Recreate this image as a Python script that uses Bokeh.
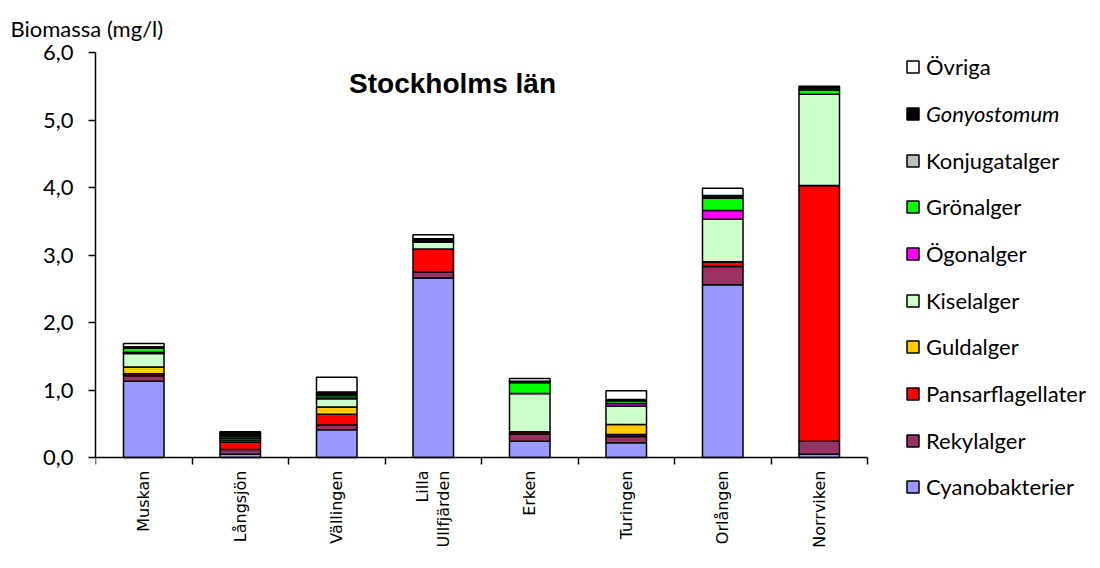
import math
from bokeh.plotting import figure
from bokeh.models import (Range1d, LinearAxis, FixedTicker,
                          CustomJSTickFormatter, Label, Legend, LegendItem, ColumnDataSource)
from bokeh.core.properties import value
from bokeh.embed import file_html
from bokeh.resources import INLINE

lakes = ["Muskan", "Långsjön", "Vällingen", "Lilla\nUllfjärden", "Erken", "Turingen", "Orlången", "Norrviken"]
groups = ["Cyanobakterier", "Rekylalger", "Pansarflagellater", "Guldalger", "Kiselalger",
          "Ögonalger", "Grönalger", "Konjugatalger", "Gonyostomum", "Övriga"]
colors = ["#9999FF", "#993366", "#FF0000", "#FFCC00", "#CCFFCC",
          "#FF00FF", "#00FF00", "#C0C0C0", "#000000", "#FFFFFF"]

cyano  = [1.13, 0.05, 0.41, 2.66, 0.24, 0.22, 2.56, 0.05]
rekyl  = [0.08, 0.07, 0.07, 0.09, 0.11, 0.09, 0.27, 0.19]
pansar = [0.03, 0.11, 0.16, 0.34, 0.03, 0.03, 0.07, 3.79]
guld   = [0.10, 0.03, 0.11, 0.00, 0.00, 0.15, 0.00, 0.00]
kisel  = [0.20, 0.03, 0.12, 0.10, 0.57, 0.27, 0.63, 1.35]
ogon   = [0.02, 0.00, 0.01, 0.00, 0.00, 0.04, 0.13, 0.00]
gron   = [0.06, 0.03, 0.04, 0.02, 0.16, 0.04, 0.18, 0.07]
konj   = [0.00, 0.00, 0.00, 0.00, 0.00, 0.00, 0.00, 0.00]
gony   = [0.02, 0.04, 0.05, 0.03, 0.02, 0.02, 0.04, 0.04]
ovriga = [0.05, 0.02, 0.22, 0.06, 0.04, 0.13, 0.11, 0.01]

y_ticks = [0, 1, 2, 3, 4, 5, 6]
title_text = "Stockholms län"
y_title = "Biomassa (mg/l)"

n = len(lakes)
xpos = [i + 0.5 for i in range(n)]
series = [cyano, rekyl, pansar, guld, kisel, ogon, gron, konj, gony, ovriga]
data = {"x": xpos, "lake": lakes, "base": [0.0] * n}
for g, s in zip(groups, series):
    data[g] = s
source = ColumnDataSource(data)

FONT = "Lato"
W, H = 1096, 567
LEFT, TOP, BOTTOM = 95, 52, 15
PX_PER_CAT = 96.5
PX_PER_UNIT = 67.5
x_max = (W - LEFT) / PX_PER_CAT                 # frame reaches right edge (legend area)
y_min = 6 - (H - BOTTOM - TOP) / PX_PER_UNIT    # frame reaches down (label area)

p = figure(x_range=Range1d(0, x_max), y_range=Range1d(y_min, 6),
           width=W, height=H, output_backend="svg", toolbar_location=None,
           x_axis_location=None, min_border_left=LEFT, min_border_right=0,
           min_border_top=TOP, min_border_bottom=BOTTOM)
p.outline_line_color = None
p.xgrid.visible = False
p.ygrid.visible = False

# y-axis title as plot title, shifted to the left edge
p.title.text = y_title
p.title.align = "left"
p.title.offset = 10 - LEFT
p.title.text_font = FONT
p.title.text_font_size = "22px"
p.title.text_font_style = "normal"
p.title.text_color = "black"
p.title.standoff = 22

renderers = p.vbar_stack(groups, x="x", width=0.42, color=colors,
                         line_color="black", line_width=1.5, source=source)

# y axis
ya = p.yaxis[0]
ya.ticker = FixedTicker(ticks=y_ticks)
ya.bounds = (0, 6)
ya.formatter = CustomJSTickFormatter(code="return tick.toFixed(1).replace('.', ',');")
ya.major_tick_out = 7
ya.major_tick_in = 0
ya.minor_tick_line_color = None
ya.axis_line_color = "black"
ya.axis_line_width = 1.5
ya.major_tick_line_color = "black"
ya.major_tick_line_width = 1.5
ya.major_label_text_font = FONT
ya.major_label_text_font_size = "22px"
ya.major_label_text_color = "black"
ya.major_label_standoff = 15

# x axis at y = 0: line + tick marks between categories
tick_axis = LinearAxis(ticker=FixedTicker(ticks=list(range(n + 1))), bounds=(0, n),
                       fixed_location=0,
                       formatter=CustomJSTickFormatter(code="return '';"),
                       major_label_standoff=0, major_label_text_font_size="1px",
                       major_tick_out=7, major_tick_in=0, minor_tick_line_color=None,
                       axis_line_color="black", axis_line_width=1.5,
                       major_tick_line_color="black", major_tick_line_width=1.5)
p.add_layout(tick_axis, "below")

# category labels, rotated, hanging below the axis
p.text(x="x", y="base", text="lake", source=source, angle=math.pi / 2,
       y_offset=13, text_align="right", text_baseline="middle",
       text_font=value("DejaVu Sans"), text_font_size=value("16px"),
       text_color="black", text_line_height=1.1)

# chart title inside the plot area
p.add_layout(Label(x=3.70, y=5.54, text=title_text, text_font="Liberation Sans",
                   text_font_style="bold", text_font_size="28px", text_align="center",
                   text_baseline="middle", text_color="black"))

# legends, one per item (top: Övriga ... bottom: Cyanobakterier)
frame_bottom = H - BOTTOM
h = 27
for i, idx in enumerate(reversed(range(len(groups)))):
    c = 66.7 + 46.67 * i
    vy = (frame_bottom - c) - h / 2
    leg = Legend(items=[LegendItem(label=groups[idx], renderers=[renderers[idx]])],
                 location=(810, vy), padding=0, margin=0, spacing=0,
                 border_line_color=None, background_fill_alpha=0,
                 glyph_width=15, glyph_height=15, label_standoff=6,
                 label_text_font=FONT, label_text_font_size="22px",
                 label_text_color="black", label_height=h,
                 label_text_font_style="italic" if groups[idx] == "Gonyostomum" else "normal")
    p.add_layout(leg, "center")

open("out.html", "w").write(file_html(p, INLINE))
